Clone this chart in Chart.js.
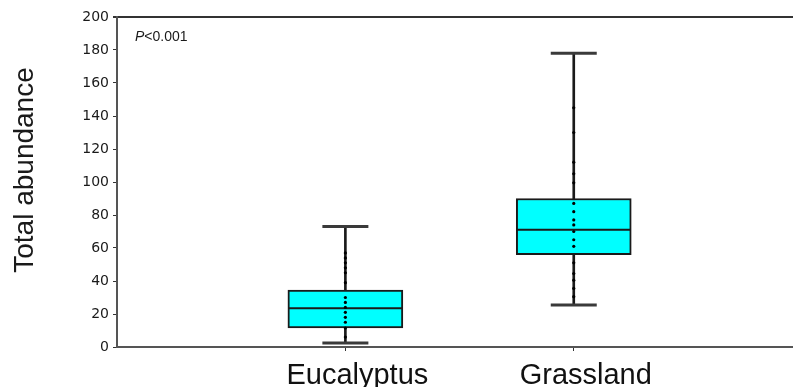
<!DOCTYPE html>
<html>
<head>
<meta charset="utf-8">
<script src="https://cdn.jsdelivr.net/npm/chart.js@4/dist/chart.umd.min.js"></script>
<style>
  html, body { margin: 0; padding: 0; background: #ffffff; overflow: hidden; }
  canvas { display: block; }
</style>
</head>
<body>
<canvas id="c" width="793" height="387"></canvas>
<script>
// ---- data ----
const categories = ['Eucalyptus', 'Grassland'];
const positions = [1, 2];
const minVals = [2.5, 25.5];
const q1Vals = [11.5, 56];
const medianVals = [23.5, 71];
const q3Vals = [34.5, 90];
const maxVals = [73, 178];
const eucalyptusPoints = [6, 11.5, 15, 18, 21, 24, 27, 30, 39, 45, 48, 51, 54, 57];
const grasslandPoints = [30.5, 35.5, 40.5, 44.5, 51, 61, 65, 70, 74, 77, 82, 87, 99.5, 105, 112, 130, 145];
const yTickValues = [0, 20, 40, 60, 80, 100, 120, 140, 160, 180, 200];
const yTitle = 'Total abundance';
const pItalic = 'P';
const pRest = '<0.001';

const dotData = [];
eucalyptusPoints.forEach(v => dotData.push({ x: positions[0], y: v }));
grasslandPoints.forEach(v => dotData.push({ x: positions[1], y: v }));

const capData = [];
positions.forEach((x, i) => { capData.push({ x, y: minVals[i] }); capData.push({ x, y: maxVals[i] }); });

const annotations = {
  id: 'annotations',
  afterDraw(chart) {
    const ctx = chart.ctx;
    const area = chart.chartArea;
    ctx.save();
    ctx.fillStyle = '#1a1a1a';
    ctx.font = '28px "Liberation Sans", Arial, sans-serif';
    ctx.textAlign = 'center';
    ctx.textBaseline = 'middle';
    ctx.translate(25, 170);
    ctx.rotate(-Math.PI / 2);
    ctx.fillText(yTitle, 0, 0);
    ctx.restore();
    ctx.save();
    ctx.fillStyle = '#1a1a1a';
    ctx.textBaseline = 'alphabetic';
    ctx.textAlign = 'left';
    ctx.font = 'italic 14px "Liberation Sans", Arial, sans-serif';
    const x0 = area.left + 18;
    ctx.fillText(pItalic, x0, 41);
    const w = ctx.measureText(pItalic).width;
    ctx.font = '14px "Liberation Sans", Arial, sans-serif';
    ctx.fillText(pRest, x0 + w, 41);
    ctx.restore();
  }
};

new Chart(document.getElementById('c'), {
  type: 'bar',
  data: {
    datasets: [
      {
        type: 'bar',
        label: 'whisker',
        data: positions.map((x, i) => ({ x, y: [minVals[i], maxVals[i]] })),
        backgroundColor: '#1a1a1a',
        barThickness: 2,
        grouped: false,
        order: 5
      },
      {
        type: 'bar',
        label: 'box',
        data: positions.map((x, i) => ({ x, y: [q1Vals[i], q3Vals[i]] })),
        backgroundColor: '#00FFFF',
        borderColor: '#1a1a1a',
        borderWidth: 2,
        borderSkipped: false,
        barThickness: 115,
        grouped: false,
        order: 4
      },
      {
        type: 'scatter',
        label: 'median',
        data: positions.map((x, i) => ({ x, y: medianVals[i] })),
        pointStyle: 'line',
        pointRadius: 57,
        borderColor: '#1a1a1a',
        borderWidth: 2,
        clip: false,
        order: 3
      },
      {
        type: 'scatter',
        label: 'caps',
        data: capData,
        pointStyle: 'line',
        pointRadius: 23,
        borderColor: '#3a3a3a',
        borderWidth: 3,
        clip: false,
        order: 3
      },
      {
        type: 'scatter',
        label: 'points',
        data: dotData,
        pointRadius: 1.6,
        backgroundColor: '#000000',
        borderWidth: 0,
        order: 1
      }
    ]
  },
  options: {
    responsive: false,
    animation: false,
    events: [],
    layout: { autoPadding: false, padding: { top: 17, right: 0, bottom: 0, left: 0 } },
    plugins: { legend: { display: false }, tooltip: { enabled: false } },
    scales: {
      x: {
        type: 'linear',
        min: 0,
        max: 2.96,
        offset: false,
        afterBuildTicks: s => { s.ticks = positions.map(v => ({ value: v })); },
        afterFit: s => { s.height = 40; },
        ticks: {
          callback: v => { const i = positions.indexOf(v); return i >= 0 ? categories[i] : ''; },
          font: { size: 29, family: '"Liberation Sans", Arial, sans-serif' },
          color: '#111111',
          labelOffset: 12,
          padding: 8,
          maxRotation: 0,
          autoSkip: false
        },
        grid: { offset: false, drawOnChartArea: false, tickLength: 4, tickColor: '#333333' },
        border: { color: '#555555', width: 2 }
      },
      y: {
        min: 0,
        max: 200,
        afterBuildTicks: s => { s.ticks = yTickValues.map(v => ({ value: v })); },
        afterFit: s => { s.width = 117; },
        ticks: {
          font: { size: 14, family: '"DejaVu Sans", sans-serif' },
          color: '#1a1a1a',
          padding: 4
        },
        grid: {
          color: c => (c.tick && c.tick.value === 200) ? '#333333' : 'rgba(0,0,0,0)',
          lineWidth: c => (c.tick && c.tick.value === 200) ? 2 : 1,
          tickLength: 4,
          tickColor: '#333333'
        },
        border: { color: '#555555', width: 2 }
      }
    }
  },
  plugins: [annotations]
});
</script>
</body>
</html>
